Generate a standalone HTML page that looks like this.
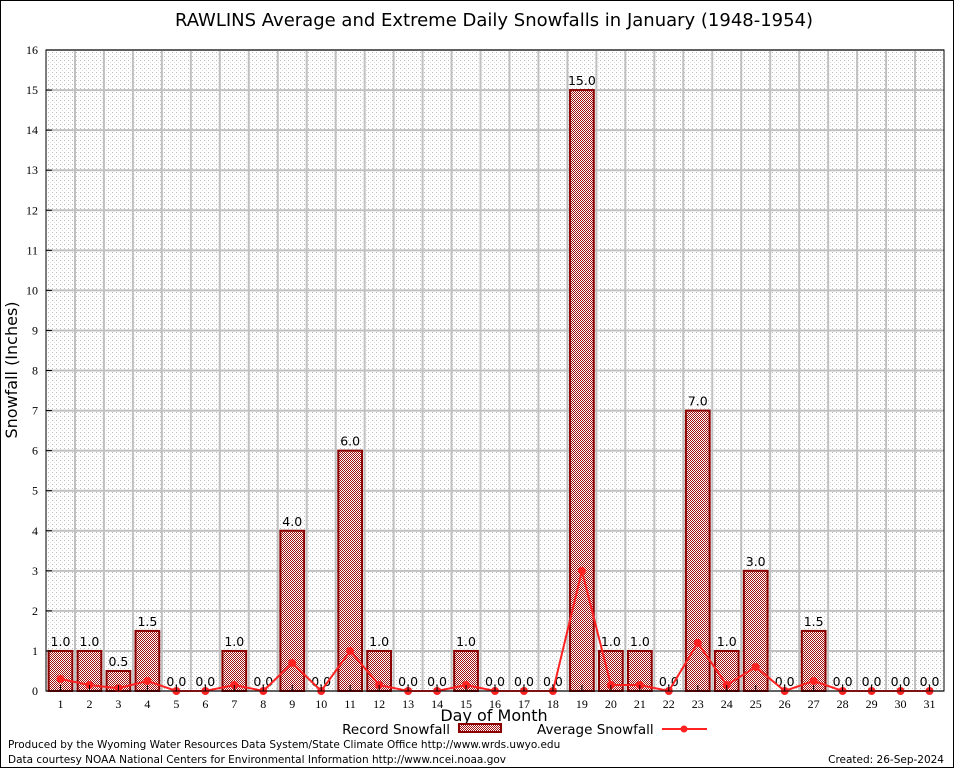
<!DOCTYPE html>
<html><head><meta charset="utf-8"><style>
body{margin:0;background:#fff;}
svg{display:block;font-family:"DejaVu Sans","Liberation Sans",sans-serif;}
</style></head><body>
<svg id="chart" width="954" height="768" viewBox="0 0 954 768">
<defs>
<pattern id="dots" width="4" height="4" patternUnits="userSpaceOnUse"><rect width="4" height="4" fill="#fff"/><rect width="1" height="1" fill="#bbb"/><rect x="2" y="2" width="1" height="1" fill="#ddd"/></pattern>
<pattern id="check" width="2" height="2" patternUnits="userSpaceOnUse"><rect width="2" height="2" fill="#fff"/><rect width="1" height="1" fill="#a01010"/><rect x="1" y="1" width="1" height="1" fill="#a01010"/></pattern>
</defs>
<rect x="0.5" y="0.5" width="953" height="767" fill="#fff" stroke="#000"/>
<text x="494" y="26" font-size="18" text-anchor="middle">RAWLINS Average and Extreme Daily Snowfalls in January (1948-1954)</text>
<rect x="46" y="50" width="898" height="641" fill="url(#dots)"/>
<g id="grid"></g>
<g id="bars"></g>
<g id="line"></g>
<rect x="46" y="50" width="898" height="641" fill="none" stroke="#000"/>
<g id="axes" font-family="'Liberation Serif',serif" font-size="12"></g>
<text x="17" y="370" font-size="16" text-anchor="middle" transform="rotate(-90 17 370)">Snowfall (Inches)</text>
<text x="494" y="721" font-size="16" text-anchor="middle">Day of Month</text>
<g>
<text x="450" y="734" font-size="13.5" text-anchor="end">Record Snowfall</text>
<rect x="459" y="724" width="42" height="8" fill="url(#check)" stroke="#8b0000" stroke-width="2"/>
<text x="537" y="734" font-size="13.5">Average Snowfall</text>
<line x1="662" y1="729" x2="707" y2="729" stroke="#f22" stroke-width="2"/>
<circle cx="684" cy="729" r="3.5" fill="#f22"/>
</g>
<text x="8" y="748" font-size="10.5">Produced by the Wyoming Water Resources Data System/State Climate Office http://www.wrds.uwyo.edu</text>
<text x="8" y="763" font-size="10.5">Data courtesy NOAA National Centers for Environmental Information http://www.ncei.noaa.gov</text>
<text x="944" y="763" font-size="10.5" text-anchor="end">Created:  26-Sep-2024</text>
</svg>
<script>
const days=[1,2,3,4,5,6,7,8,9,10,11,12,13,14,15,16,17,18,19,20,21,22,23,24,25,26,27,28,29,30,31];
const recordSnow=[1.0,1.0,0.5,1.5,0,0,1.0,0,4.0,0,6.0,1.0,0,0,1.0,0,0,0,15.0,1.0,1.0,0,7.0,1.0,3.0,0,1.5,0,0,0,0];
const avgSnow=[0.3,0.15,0.07,0.25,0,0,0.15,0,0.7,0,1.0,0.15,0,0,0.15,0,0,0,3.0,0.15,0.15,0,1.2,0.15,0.6,0,0.25,0,0,0,0];
const yTicks=[0,1,2,3,4,5,6,7,8,9,10,11,12,13,14,15,16];
const NS="http://www.w3.org/2000/svg";
const X0=46,X1=944,Y0=691,Y1=50,yMax=16;
const step=(X1-X0)/31;
const x=d=>X0+(d-0.5)*step;
const y=v=>Y0-(v/yMax)*(Y0-Y1);
function mk(tag,attrs,parent){const e=document.createElementNS(NS,tag);for(const k in attrs)e.setAttribute(k,attrs[k]);parent.appendChild(e);return e;}
const grid=document.getElementById('grid'),bars=document.getElementById('bars'),line=document.getElementById('line'),axes=document.getElementById('axes');
yTicks.forEach(t=>{
 const l=mk('line',{x1:X0,x2:X1,y1:y(t),y2:y(t),stroke:'#c0c0c0','stroke-width':2},grid);
 
 
 const tk=mk('line',{x1:X0,x2:X0+6,y1:y(t),y2:y(t),stroke:'#000'},axes);
 
 
 const tx=mk('text',{x:X0-8,y:y(t)+4,'text-anchor':'end'},axes);
 tx.textContent=t;
 
 
});
days.forEach(d=>{
 if(d<31){const l=mk('line',{x1:x(d)+step/2,x2:x(d)+step/2,y1:Y1,y2:Y0,stroke:'#c0c0c0','stroke-width':2},grid);
 
 }
 const tk=mk('line',{x1:x(d),x2:x(d),y1:Y0,y2:Y0-6,stroke:'#000'},axes);
 
 
 const tx=mk('text',{x:x(d),y:Y0+17,'text-anchor':'middle'},axes);
 tx.textContent=d;
 
 
});
const bw=step*0.82;
recordSnow.forEach((v,i)=>{
 const cx=x(days[i]);
 if(v>0){const r=mk('rect',{x:cx-bw/2,y:y(v),width:bw,height:Y0-y(v),fill:'url(#check)',stroke:'#8b0000','stroke-width':2},bars);
 
 }
 const t=mk('text',{x:cx,y:y(v)-5,'text-anchor':'middle','font-size':12.5},bars);
 t.textContent=v.toFixed(1);
 
 
});
const pts=avgSnow.map((v,i)=>x(days[i])+','+y(v)).join(' ');
const pl=mk('polyline',{points:pts,fill:'none',stroke:'#f22','stroke-width':2},line);


avgSnow.forEach((v,i)=>{
 const c=mk('circle',{cx:x(days[i]),cy:y(v),r:4,fill:'#f22'},line);
 
 
});
</script>
</body></html>
